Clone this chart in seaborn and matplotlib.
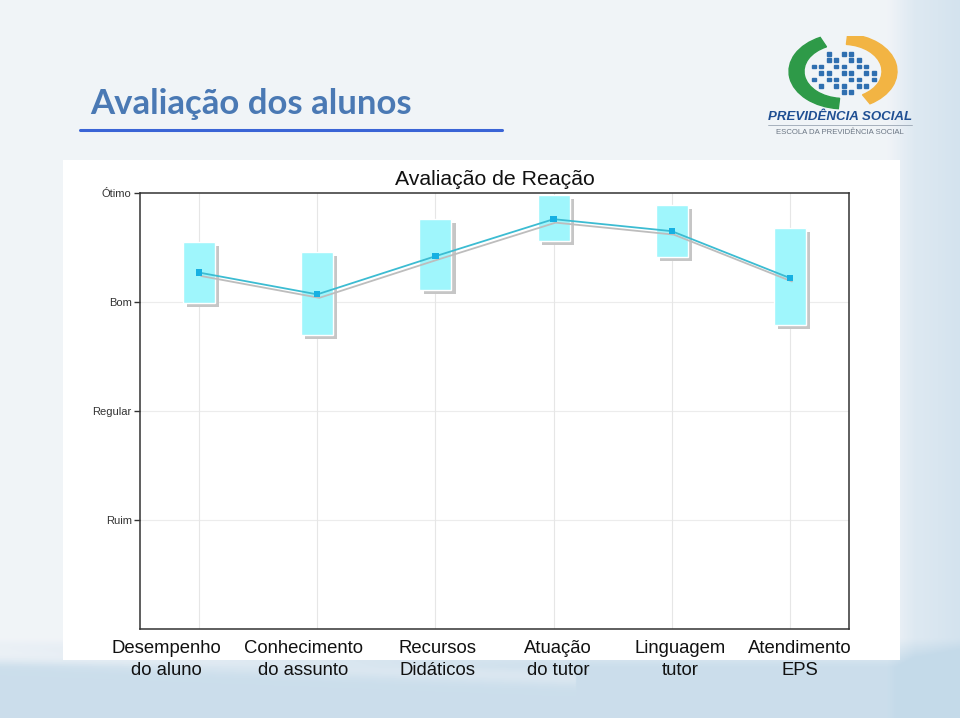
import numpy as np
import pandas as pd
import seaborn as sns
import matplotlib.pyplot as plt
import matplotlib.patheffects as pe
from matplotlib.patches import Rectangle, Wedge
from matplotlib.lines import Line2D

# Data (scale: Ruim=1 .. Ótimo=4)
categories = ["Desempenho\ndo aluno", "Conhecimento\ndo assunto", "Recursos\nDidáticos",
              "Atuação\ndo tutor", "Linguagem\ntutor", "Atendimento\nEPS"]
mean_score = [3.27, 3.07, 3.42, 3.76, 3.65, 3.22]
box_low = [2.99, 2.70, 3.11, 3.56, 3.41, 2.79]
box_high = [3.55, 3.46, 3.76, 3.98, 3.89, 3.68]
level_values = [1, 2, 3, 4]
level_labels = ["Ruim", "Regular", "Bom", "Ótimo"]
# the slide's labels sit a little off their ticks (in category units)
label_shift = [-0.28, -0.12, 0.02, 0.04, 0.07, 0.085]

sns.set_style("white")
plt.rcParams["font.family"] = ["Liberation Sans", "DejaVu Sans"]

fig = plt.figure(figsize=(9.6, 7.18), dpi=100)

# slide background
bg = fig.add_axes([0, 0, 1, 1], zorder=-10)
gx, gy = np.meshgrid(np.linspace(0, 1, 480), np.linspace(0, 1, 360))
right = np.clip((gx - 0.925) / 0.03, 0, 1) * 0.45 + np.clip((gx - 0.96) / 0.04, 0, 1) * 0.2
bottom = np.clip((0.11 - gy) / 0.04, 0, 1) * 0.85
swoosh = np.exp(-((gy - (0.085 - 0.05 * gx)) / 0.012) ** 2) * 0.35 * (gx < 0.6)
blue = np.clip(right + bottom - swoosh, 0, 1)
base = np.array([0.945, 0.957, 0.972])
tint = np.array([0.77, 0.855, 0.915])
img = base[None, None, :] * (1 - blue[..., None]) + tint[None, None, :] * blue[..., None]
bg.imshow(img, extent=[0, 1, 0, 1], origin="lower", aspect="auto")
bg.set_axis_off()

# white chart panel
fig.patches.append(Rectangle((63 / 960, 1 - 660 / 718), (900 - 63) / 960, (660 - 160) / 718,
                             transform=fig.transFigure, facecolor="white", edgecolor="none", zorder=-5))

# slide title and underline
fig.text(90 / 960, 1 - 114 / 718, "Avaliação dos alunos", fontsize=25, fontweight="bold",
         color="#4a79b4", family=["Lato", "DejaVu Sans"], va="baseline")
fig.lines.append(Line2D([80 / 960, 502 / 960], [1 - 130 / 718, 1 - 130 / 718],
                        transform=fig.transFigure, color="#3a64d6", lw=2.2))

# logo (approximation)
lg = fig.add_axes([765 / 960, 1 - 140 / 718, 150 / 960, 104 / 718])
lg.set_xlim(0, 1)
lg.set_ylim(0, 1)
lg.set_axis_off()
lg.add_patch(Wedge((0.52, 0.66), 0.36, 115, 265, width=0.1, color="#2e9a48"))
lg.add_patch(Wedge((0.52, 0.66), 0.36, -60, 85, width=0.1, color="#f2b443"))
for i in range(9):
    for j in range(7):
        px, py = 0.31 + i * 0.05, 0.44 + j * 0.062
        if (px - 0.51) ** 2 / 0.05 + (py - 0.64) ** 2 / 0.05 < 1 and (i + j) % 3 != 0:
            lg.add_patch(Rectangle((px, py), 0.028, 0.036, color="#2f6fb0"))
lg.text(0.5, 0.22, "PREVIDÊNCIA SOCIAL", ha="center", va="center", fontsize=9.5,
        fontweight="bold", fontstyle="italic", color="#1f4f93")
lg.plot([0.02, 0.98], [0.14, 0.14], color="#9aa6b4", lw=0.6)
lg.text(0.5, 0.07, "ESCOLA DA PREVIDÊNCIA SOCIAL", ha="center", va="center", fontsize=5.6,
        color="#6b7684")

# chart
ax = fig.add_axes([140 / 960, 1 - 629 / 718, (849 - 140) / 960, (629 - 193) / 718])
x_pos = np.arange(len(categories))
df = pd.DataFrame({"x": x_pos, "mean": mean_score})

for v in level_values[:-1]:
    ax.axhline(v, color="#ececec", lw=0.8, zorder=0)
for xp in x_pos:
    ax.axvline(xp, color="#e6e6e6", lw=0.8, zorder=0)

lows = np.array(box_low)
highs = np.array(box_high)
ax.bar(x_pos, highs - lows, bottom=lows, width=0.27, color="#9ff6fc", zorder=2,
       path_effects=[pe.SimplePatchShadow(offset=(3, -3), shadow_rgbFace="#c6c6c6", alpha=1),
                     pe.Normal()])

sns.lineplot(data=df, x="x", y="mean", ax=ax, color="#3cbcd2", lw=1.3, marker="s",
             markersize=4.5, markeredgewidth=0, markerfacecolor="#16b0e2", zorder=3)
ax.lines[-1].set_path_effects([pe.SimpleLineShadow(offset=(1.5, -2.5), shadow_color="#bdbdbd", alpha=1),
                               pe.Normal()])

ax.set_xlim(-0.5, len(categories) - 0.5)
ax.set_ylim(0, 4)
# tick marks on the categories, labels on (slightly shifted) minor ticks
ax.set_xticks(x_pos)
ax.set_xticklabels([])
ax.set_xticks(x_pos + np.array(label_shift), minor=True)
ax.set_xticklabels(categories, minor=True, fontsize=13.3, color="#111111", linespacing=1.38)
ax.set_yticks(level_values)
ax.set_yticklabels(level_labels, fontsize=8, color="#333333")
ax.tick_params(axis="x", which="major", direction="in", length=5, width=0.8, color="#555555")
ax.tick_params(axis="x", which="minor", length=0, pad=8, bottom=True)
ax.tick_params(axis="y", direction="out", length=4, width=1, color="#333333", pad=2, left=True)
ax.set_xlabel("")
ax.set_ylabel("")
for s in ax.spines.values():
    s.set_visible(True)
    s.set_color("#333333")
    s.set_linewidth(1.1)
ax.set_facecolor("white")
ax.text(0.5, 1.01, "Avaliação de Reação", transform=ax.transAxes, ha="center", va="bottom",
        fontsize=15.3, color="#111111")

fig.savefig("out.png", dpi=100)
